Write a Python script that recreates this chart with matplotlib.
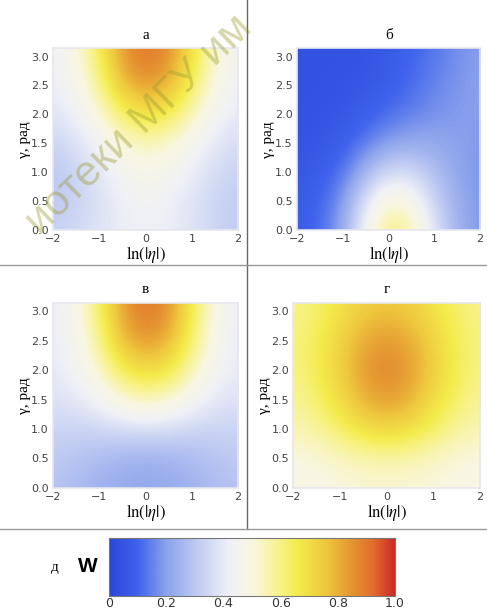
import numpy as np
import matplotlib
matplotlib.use("Agg")
import matplotlib.pyplot as plt
from matplotlib.colors import LinearSegmentedColormap

# ln|eta| и gamma (узлы сетки, значения W)
ln_eta = [-2.0, -1.5, -1.0, -0.5, 0.0, 0.5, 1.0, 1.5, 2.0]
gamma = [0.0, 0.52, 1.05, 1.57, 2.09, 2.62, 3.14]

W_a = [
    [0.33, 0.35, 0.38, 0.41, 0.42, 0.41, 0.38, 0.34, 0.31],
    [0.30, 0.33, 0.37, 0.42, 0.44, 0.42, 0.38, 0.34, 0.31],
    [0.30, 0.34, 0.39, 0.45, 0.48, 0.46, 0.41, 0.36, 0.33],
    [0.34, 0.38, 0.44, 0.52, 0.56, 0.53, 0.46, 0.40, 0.36],
    [0.39, 0.43, 0.52, 0.66, 0.72, 0.68, 0.56, 0.45, 0.40],
    [0.42, 0.47, 0.60, 0.80, 0.87, 0.82, 0.65, 0.49, 0.43],
    [0.43, 0.49, 0.65, 0.85, 0.91, 0.87, 0.69, 0.51, 0.44],
]
W_b = [
    [0.08, 0.11, 0.22, 0.45, 0.62, 0.56, 0.38, 0.24, 0.18],
    [0.07, 0.10, 0.18, 0.38, 0.52, 0.48, 0.33, 0.23, 0.18],
    [0.06, 0.08, 0.12, 0.24, 0.34, 0.34, 0.27, 0.21, 0.18],
    [0.05, 0.06, 0.08, 0.13, 0.18, 0.21, 0.21, 0.20, 0.19],
    [0.04, 0.05, 0.06, 0.08, 0.11, 0.14, 0.17, 0.19, 0.20],
    [0.04, 0.04, 0.05, 0.06, 0.08, 0.11, 0.15, 0.18, 0.20],
    [0.04, 0.04, 0.04, 0.05, 0.07, 0.10, 0.13, 0.17, 0.20],
]
W_v = [
    [0.29, 0.27, 0.24, 0.22, 0.21, 0.22, 0.24, 0.27, 0.29],
    [0.31, 0.29, 0.27, 0.25, 0.24, 0.25, 0.27, 0.29, 0.31],
    [0.34, 0.34, 0.35, 0.37, 0.38, 0.37, 0.35, 0.34, 0.34],
    [0.38, 0.40, 0.45, 0.53, 0.57, 0.54, 0.46, 0.40, 0.38],
    [0.40, 0.44, 0.54, 0.68, 0.74, 0.70, 0.56, 0.45, 0.40],
    [0.41, 0.46, 0.60, 0.80, 0.87, 0.82, 0.63, 0.47, 0.41],
    [0.41, 0.47, 0.63, 0.84, 0.91, 0.86, 0.66, 0.48, 0.41],
]
W_g = [
    [0.48, 0.49, 0.50, 0.51, 0.51, 0.51, 0.50, 0.49, 0.48],
    [0.50, 0.51, 0.53, 0.55, 0.56, 0.55, 0.53, 0.51, 0.50],
    [0.55, 0.58, 0.64, 0.71, 0.74, 0.71, 0.64, 0.58, 0.55],
    [0.58, 0.63, 0.71, 0.81, 0.85, 0.81, 0.71, 0.63, 0.58],
    [0.60, 0.65, 0.74, 0.84, 0.88, 0.84, 0.74, 0.65, 0.60],
    [0.60, 0.64, 0.72, 0.80, 0.83, 0.80, 0.72, 0.64, 0.60],
    [0.59, 0.62, 0.68, 0.73, 0.75, 0.73, 0.68, 0.62, 0.59],
]
titles = ["а", "б", "в", "г"]
cbar_ticks = [0, 0.2, 0.4, 0.6, 0.8, 1.0]

cmap = LinearSegmentedColormap.from_list("w", [
    (0.00, "#2a48d8"), (0.10, "#3f63ec"), (0.20, "#8ca3ec"),
    (0.30, "#bcc8f2"), (0.42, "#f0f1f7"), (0.50, "#f9f7e2"),
    (0.60, "#f8f286"), (0.66, "#f4ec4c"), (0.76, "#efc83e"),
    (0.86, "#e49030"), (0.92, "#e3702e"), (1.00, "#cc2c26"),
])

plt.rcParams["mathtext.fontset"] = "stix"
fig = plt.figure(figsize=(4.87, 6.12), dpi=100)
positions = [
    [0.109, 0.624, 0.380, 0.297],
    [0.610, 0.624, 0.376, 0.297],
    [0.109, 0.203, 0.380, 0.302],
    [0.602, 0.203, 0.384, 0.302],
]
dx = 0.25
dy = (gamma[1] - gamma[0]) / 2
for pos, W, t in zip(positions, [W_a, W_b, W_v, W_g], titles):
    ax = fig.add_axes(pos)
    ax.imshow(np.array(W), origin="lower", cmap=cmap, vmin=0, vmax=1,
              interpolation="bicubic", aspect="auto",
              extent=[ln_eta[0] - dx, ln_eta[-1] + dx, gamma[0] - dy, gamma[-1] + dy])
    ax.set_xlim(-2, 2)
    ax.set_ylim(0, np.pi)
    ax.set_xticks([-2, -1, 0, 1, 2])
    ax.set_yticks([0, 0.5, 1, 1.5, 2, 2.5, 3])
    ax.set_yticklabels(["0.0", "0.5", "1.0", "1.5", "2.0", "2.5", "3.0"])
    ax.tick_params(length=0, labelsize=8, labelcolor="#444444", pad=3)
    for s in ax.spines.values():
        s.set_color("#e6e6ee")
        s.set_linewidth(1.2)
    ax.set_title(t, family="Liberation Serif", fontsize=11, pad=7)
    ax.set_xlabel(r"$\ln(|\eta|)$", fontsize=12, labelpad=0)
    ax.set_ylabel("γ, рад", family="Liberation Serif", fontsize=11, labelpad=0)

# разделительные линии
fig.add_artist(plt.Line2D([0.507, 0.507], [0.136, 1.0], color="#666666", lw=1))
fig.add_artist(plt.Line2D([0.0, 1.0], [0.567, 0.567], color="#999999", lw=1))
fig.add_artist(plt.Line2D([0.0, 1.0], [0.136, 0.136], color="#999999", lw=1))

# цветовая шкала
cax = fig.add_axes([0.224, 0.026, 0.587, 0.095])
grad = np.linspace(0, 1, 256).reshape(1, -1)
cax.imshow(grad, cmap=cmap, aspect="auto", extent=[0, 1, 0, 1])
cax.set_yticks([])
cax.set_xticks(cbar_ticks)
cax.set_xticklabels(["0", "0.2", "0.4", "0.6", "0.8", "1.0"])
cax.tick_params(length=0, labelsize=9, labelcolor="#333333", pad=1)
for s in cax.spines.values():
    s.set_color("#777777")
    s.set_linewidth(0.8)
fig.text(0.113, 0.073, "д", family="Liberation Serif", fontsize=11, ha="center", va="center")
fig.text(0.180, 0.075, "W", family="Liberation Sans", fontsize=15, fontweight="bold",
         ha="center", va="center")

# водяной знак
fig.text(0.285, 0.795, "иотеки МГУ им", family="Liberation Sans", fontsize=31,
         rotation=44, ha="center", va="center", color="#9a9a30", alpha=0.4, zorder=10)

fig.savefig("out.png", dpi=100)
